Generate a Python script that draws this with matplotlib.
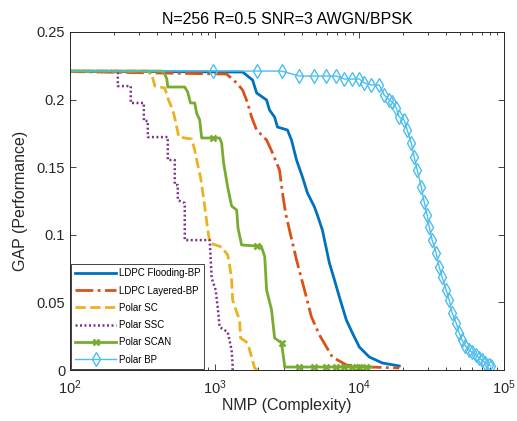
import matplotlib
matplotlib.use("Agg")
import matplotlib.pyplot as plt
from matplotlib.ticker import FixedLocator, LogLocator, NullFormatter

plt.rcParams['font.family'] = ['Liberation Sans', 'DejaVu Sans']

# ---------------- data ----------------
flood_x = [60, 1560, 1828, 1950, 2285, 2393, 2594, 2718, 3186, 3396, 3680, 4045, 4378,
           4895, 5129, 5554, 6210, 6730, 7278, 8130, 8950, 10000, 11720, 14420, 18880]
flood_y = [0.2211, 0.2204, 0.2145, 0.2049, 0.1997, 0.1923, 0.1871, 0.1797, 0.1775, 0.1701,
           0.1553, 0.1427, 0.1309, 0.1206, 0.1146, 0.1035, 0.0791, 0.0666, 0.054, 0.037,
           0.0274, 0.017, 0.0096, 0.0052, 0.003]

layer_x = [60, 1210, 1419, 1560, 1690, 1799, 1950, 2285, 2512, 2806, 2944, 3090, 3289,
           3680, 4176, 4667, 5297, 6510, 8130, 11720, 18880]
layer_y = [0.2211, 0.2189, 0.2123, 0.2071, 0.1975, 0.1871, 0.1775, 0.1701, 0.1605, 0.1479,
           0.1309, 0.1161, 0.1035, 0.0814, 0.0592, 0.0392, 0.0259, 0.0096, 0.0037, 0.0022,
           0.0015]

sc_x = [60, 345, 368, 386, 452, 474, 513, 538, 565, 694, 728, 764, 800, 826, 853, 881, 924,
        1117, 1230, 1268, 1309, 1331, 1419, 1486, 1510, 1690, 1799, 1888, 1980]
sc_y = [0.2211, 0.2211, 0.2182, 0.21, 0.2086, 0.2011, 0.1923, 0.1834, 0.1723, 0.1708, 0.1627,
        0.1516, 0.142, 0.1317, 0.1213, 0.1095, 0.0939, 0.091, 0.0851, 0.0777, 0.0666, 0.0518,
        0.0429, 0.037, 0.0237, 0.02, 0.0096, 0.0015, 0.0]

ssc_x = [60, 214, 214, 263, 263, 324, 324, 345, 345, 474, 474, 530, 530, 556, 556, 621, 621,
         924, 953, 1016, 1049, 1082, 1230, 1309, 1331, 1331]
ssc_y = [0.2211, 0.2211, 0.21, 0.21, 0.1975, 0.1975, 0.1842, 0.1842, 0.1723, 0.1723, 0.1553,
         0.1553, 0.1368, 0.1368, 0.1257, 0.1235, 0.0961, 0.0961, 0.068, 0.0592, 0.0466, 0.0318,
         0.0281, 0.0148, 0.0037, 0.0]

scan_x = [60, 431, 452, 467, 474, 621, 651, 680, 728, 750, 788, 813, 968, 1082, 1117, 1153,
          1230, 1309, 1419, 1450, 1535, 1950, 2096, 2218, 2285, 2473, 2595, 2897, 3041, 3041,
          3855, 4895, 5920, 6940, 7880, 8950, 10000, 11170, 12100]
scan_y = [0.2211, 0.2211, 0.2189, 0.2152, 0.2093, 0.2093, 0.2056, 0.1975, 0.1975, 0.19,
          0.1849, 0.1716, 0.1716, 0.1716, 0.1679, 0.1531, 0.1353, 0.1213, 0.1183, 0.105,
          0.0925, 0.0917, 0.0917, 0.0838, 0.0592, 0.0444, 0.0237, 0.02, 0.0037, 0.0022,
          0.0022, 0.0022, 0.0022, 0.0022, 0.0022, 0.0022, 0.0022, 0.0022, 0.0022]
scan_marks = [12, 21, 27, 30, 31, 32, 33, 34, 35, 36, 37]

bp_x = [60, 968, 1950, 2897, 3855, 4895, 5920, 6940, 7880, 8950, 10000, 10820, 12100, 13740,
        14860, 16100, 16900, 17990, 18880, 20420, 21430, 22850, 23930, 25120, 26790, 28070,
        29440, 30410, 31850, 33960, 35640, 37350, 39810, 41790, 43750, 46670, 48980, 51290,
        54000, 57410, 60500, 64120, 67000, 70470, 74000, 78830, 81300]
bp_y = [0.2211, 0.2211, 0.2211, 0.2211, 0.2174, 0.2174, 0.2174, 0.2174, 0.2152, 0.2152,
        0.2152, 0.2123, 0.2108, 0.2108, 0.2034, 0.1997, 0.1982, 0.1938, 0.1871, 0.1849,
        0.1775, 0.1679, 0.1575, 0.1479, 0.1353, 0.1243, 0.1146, 0.1058, 0.0961, 0.0865,
        0.0762, 0.0688, 0.0592, 0.0518, 0.0422, 0.0348, 0.0274, 0.0222, 0.018, 0.0148,
        0.013, 0.0111, 0.009, 0.0074, 0.0055, 0.0037, 0.003]

labels = ['LDPC Flooding-BP', 'LDPC Layered-BP', 'Polar SC', 'Polar SSC', 'Polar SCAN', 'Polar BP']
ytick_vals = [0, 0.05, 0.1, 0.15, 0.2, 0.25]
ytick_labels = ['0', '0.05', '0.1', '0.15', '0.2', '0.25']

# ---------------- plot ----------------
fig = plt.figure(figsize=(5.17, 4.21), dpi=100)
ax = fig.add_axes([0.1354, 0.1211, 0.8395, 0.8029])

axcol = '#262626'
ax.plot(flood_x, flood_y, '-', color='#0072BD', lw=2.0, label=labels[0])
ax.plot(layer_x, layer_y, '-.', color='#D95319', lw=2.0, label=labels[1])
ax.plot(sc_x, sc_y, '--', color='#EDB120', lw=2.0, label=labels[2])
ax.plot(ssc_x, ssc_y, linestyle=(0, (0.8, 1.0)), color='#7E2F8E', lw=1.8, label=labels[3])
ax.plot(scan_x, scan_y, '-', color='#77AC30', lw=2.0, marker='x', ms=5, mew=1.8,
        markevery=scan_marks, label=labels[4])
ax.plot(bp_x, bp_y, '-', color='#4DBEEE', lw=1.0, marker='d', ms=7, mfc='none', mew=1.0,
        markevery=list(range(1, len(bp_x))), label=labels[5])

ax.set_xscale('log')
ax.set_xlim(100, 1e5)
ax.set_ylim(0, 0.25)
ax.yaxis.set_major_locator(FixedLocator(ytick_vals))
ax.set_yticklabels(ytick_labels)
ax.xaxis.set_major_locator(LogLocator(base=10, numticks=10))
ax.xaxis.set_minor_locator(LogLocator(base=10, subs=range(2, 10), numticks=20))
ax.xaxis.set_minor_formatter(NullFormatter())

ax.tick_params(which='both', direction='in', top=True, right=True, colors=axcol,
               labelsize=10.5, width=0.6)
ax.tick_params(which='major', length=4)
ax.tick_params(which='minor', length=2.5)
ax.tick_params(axis='x', which='major', pad=6)
for s in ax.spines.values():
    s.set_color(axcol)
    s.set_linewidth(0.7)

ax.set_title('N=256 R=0.5 SNR=3 AWGN/BPSK', fontsize=11.5, color='#000000', pad=6)
ax.set_xlabel('NMP (Complexity)', fontsize=11.5, color=axcol, labelpad=1)
ax.set_ylabel('GAP (Performance)', fontsize=11.5, color=axcol, labelpad=6)

leg = ax.legend(loc='lower left', fontsize=7, handlelength=4.2, frameon=True, fancybox=False,
                framealpha=1, edgecolor='#262626', borderaxespad=0.15, labelspacing=0.75,
                handletextpad=0.3, borderpad=0.4, numpoints=1)
leg.get_frame().set_linewidth(0.6)

fig.savefig('out.png', dpi=100)
